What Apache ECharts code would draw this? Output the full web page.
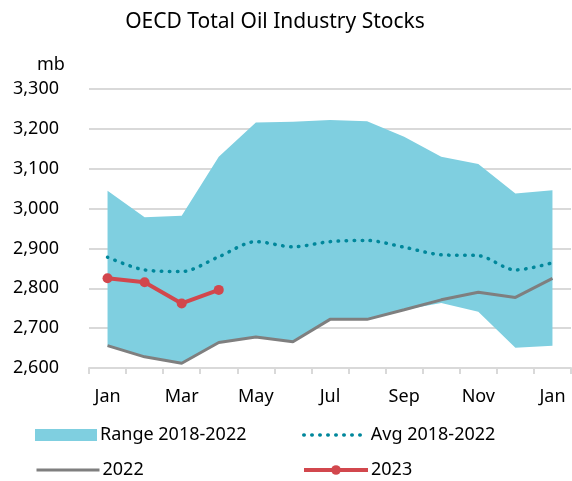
<!DOCTYPE html>
<html lang="en">
<head>
    <meta charset="UTF-8">
    <title>OECD Total Oil Industry Stocks</title>
    <script type="text/javascript" src="https://cdn.jsdelivr.net/npm/echarts@6/dist/echarts.min.js"></script>
    <style>
        html, body {margin: 0; padding: 0; background: #fff;}
        #chart {width: 572px; height: 481px;}
    </style>
</head>
<body>
<div id="chart"></div>
<script>
    // 月份（Jan 到次年 Jan）
    var months = ['Jan', 'Feb', 'Mar', 'Apr', 'May', 'Jun', 'Jul', 'Aug', 'Sep', 'Oct', 'Nov', 'Dec', 'Jan'];

    // 2018-2022 区间上下限
    var rangeHigh = [3045, 2978, 2982, 3130, 3216, 3218, 3222, 3219, 3180, 3130, 3112, 3038, 3046];
    var rangeLow = [2656, 2628, 2612, 2664, 2678, 2666, 2722, 2722, 2746, 2763, 2741, 2651, 2656];
    // 2018-2022 平均
    var avg = [2878, 2846, 2842, 2879, 2917, 2904, 2917, 2920, 2903, 2884, 2882, 2846, 2864];
    // 2022 / 2023
    var y2022 = [2656, 2628, 2612, 2664, 2678, 2666, 2722, 2722, 2746, 2771, 2790, 2777, 2825];
    var y2023 = [2825, 2815, 2762, 2796];

    var font = 'Noto Sans';
    var chart = echarts.init(document.getElementById('chart'));

    // 区间带 = 下限 + (上限-下限)，堆叠画面积
    var rangeSpan = [];
    for (var i = 0; i < rangeHigh.length; i++) {
        rangeSpan.push(rangeHigh[i] - rangeLow[i]);
    }

    // 图例：每项单独放
    function legendItem(item, left, top, w) {
        return {
            left: left,
            top: top,
            itemWidth: w,
            itemHeight: 12,
            itemGap: 0,
            textStyle: {fontFamily: font, fontSize: 18, color: '#000', padding: [0, 0, 0, -2]},
            data: [item]
        };
    }

    var option = {
        animation: false,
        textStyle: {fontFamily: font},
        title: [{
            text: 'OECD Total Oil Industry Stocks',
            left: 270,
            textAlign: 'center',
            top: 7,
            textStyle: {fontFamily: font, fontSize: 21, fontWeight: 'normal', color: '#000'}
        }, {
            text: 'mb',
            left: 32,
            top: 51,
            textStyle: {fontFamily: font, fontSize: 18, fontWeight: 'normal', color: '#000'}
        }],
        legend: [
            legendItem({name: 'Range 2018-2022', icon: 'rect'}, 30, 421, 62),
            legendItem({name: '2022', itemStyle: {opacity: 0}, lineStyle: {width: 3}}, 30, 456, 63),
            legendItem({name: 'Avg 2018-2022', itemStyle: {opacity: 0}, lineStyle: {width: 3.5, type: [0.5, 7.5], cap: 'round'}}, 297, 421, 64),
            legendItem({name: '2023', lineStyle: {width: 4}}, 297, 456, 64)
        ],
        grid: {left: 89, right: 1, top: 89, bottom: 113},
        xAxis: {
            type: 'category',
            data: months,
            boundaryGap: true,
            axisLine: {lineStyle: {color: '#d9d9d9', width: 2}},
            axisTick: {show: true, interval: 0, length: 6, lineStyle: {color: '#d9d9d9', width: 2}},
            axisLabel: {interval: 1, margin: 20, fontFamily: font, fontSize: 18, color: '#000'}
        },
        yAxis: {
            type: 'value',
            min: 2600,
            max: 3300,
            interval: 100,
            axisLine: {show: false},
            axisTick: {show: false},
            splitLine: {lineStyle: {color: '#d9d9d9', width: 2}},
            axisLabel: {
                margin: 30,
                fontFamily: font,
                fontSize: 18,
                color: '#000',
                formatter: function (v) { return v.toLocaleString('en-US'); }
            }
        },
        series: [{
            name: 'rangeBase',
            type: 'line',
            stack: 'range',
            data: rangeLow,
            symbol: 'none',
            lineStyle: {opacity: 0},
            silent: true
        }, {
            name: 'Range 2018-2022',
            type: 'line',
            stack: 'range',
            data: rangeSpan,
            symbol: 'none',
            lineStyle: {opacity: 0},
            itemStyle: {color: '#7fcfe0'},
            areaStyle: {color: '#7fcfe0', opacity: 1}
        }, {
            name: 'Avg 2018-2022',
            type: 'line',
            data: avg,
            symbol: 'none',
            smooth: 0.3,
            itemStyle: {color: '#00879b'},
            lineStyle: {color: '#00879b', width: 3.5, type: [0.5, 7.5], cap: 'round'}
        }, {
            name: '2022',
            type: 'line',
            data: y2022,
            symbol: 'none',
            itemStyle: {color: '#7f7f7f'},
            lineStyle: {color: '#7f7f7f', width: 3}
        }, {
            name: '2023',
            type: 'line',
            data: y2023,
            symbol: 'circle',
            symbolSize: 10,
            itemStyle: {color: '#d2474d'},
            lineStyle: {color: '#d2474d', width: 4}
        }]
    };

    chart.setOption(option);
</script>
</body>
</html>
